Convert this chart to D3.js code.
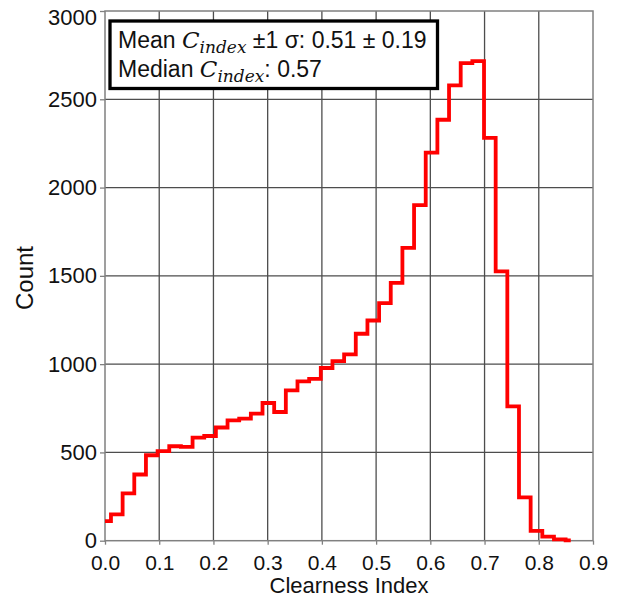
<!DOCTYPE html>
<html>
<head>
<meta charset="utf-8">
<script src="https://cdn.jsdelivr.net/npm/d3@7"></script>
<style>
  html, body { margin: 0; padding: 0; background: #ffffff; }
  svg { display: block; }
</style>
</head>
<body>
<svg id="chart" width="619" height="599"></svg>
<script>
// ---- data ----
const binEdges = [0, 0.011, 0.0325, 0.054, 0.0755, 0.097, 0.1185, 0.140, 0.1615, 0.183,
  0.2045, 0.226, 0.2475, 0.269, 0.2905, 0.312, 0.3335, 0.355, 0.3765, 0.398,
  0.4195, 0.441, 0.4625, 0.484, 0.5055, 0.527, 0.5485, 0.570, 0.5915, 0.613,
  0.6345, 0.656, 0.6775, 0.699, 0.7205, 0.742, 0.7635, 0.785, 0.8065, 0.828,
  0.8495, 0.859];
const counts = [111, 149, 268, 375, 484, 507, 535, 531, 584, 593,
  641, 682, 691, 720, 780, 729, 851, 902, 917, 978,
  1017, 1055, 1172, 1247, 1345, 1460, 1658, 1901, 2198, 2384,
  2579, 2705, 2716, 2282, 1525, 761, 245, 56, 23, 8, 2];
const xTicks = [0, 0.1, 0.2, 0.3, 0.4, 0.5, 0.6, 0.7, 0.8, 0.9];
const yTicks = [0, 500, 1000, 1500, 2000, 2500, 3000];
const xTitle = "Clearness Index";
const yTitle = "Count";
const meanText = " ±1 σ: 0.51 ± 0.19";
const medianText = ": 0.57";

// ---- layout ----
const svg = d3.select("#chart");
const pLeft = 105, pRight = 593, pTop = 11, pBottom = 540.7;
const x = d3.scaleLinear().domain([0, 0.9]).range([pLeft, pRight]);
const y = d3.scaleLinear().domain([0, 3000]).range([pBottom, pTop]);
const sans = "'Liberation Sans', Arial, Helvetica, sans-serif";

// gridlines
const grid = svg.append("g");
grid.selectAll("line.gx").data(xTicks.slice(1, -1)).join("line")
  .attr("x1", d => x(d)).attr("x2", d => x(d))
  .attr("y1", pTop).attr("y2", pBottom)
  .attr("stroke", "#4d4d4d").attr("stroke-width", 1.3);
grid.selectAll("line.gy").data(yTicks.slice(1, -1)).join("line")
  .attr("y1", d => y(d)).attr("y2", d => y(d))
  .attr("x1", pLeft).attr("x2", pRight)
  .attr("stroke", "#4d4d4d").attr("stroke-width", 1.3);

// axes
const xAxis = svg.append("g")
  .attr("transform", `translate(0,${pBottom})`)
  .call(d3.axisBottom(x).tickValues(xTicks).tickFormat(d3.format(".1f")).tickSize(4).tickPadding(10));
const yAxis = svg.append("g")
  .attr("transform", `translate(${pLeft},0)`)
  .call(d3.axisLeft(y).tickValues(yTicks).tickFormat(d3.format("d")).tickSize(5).tickPadding(3));
[xAxis, yAxis].forEach(a => {
  a.select(".domain").remove();
  a.selectAll(".tick line").attr("stroke", "#808080").attr("stroke-width", 1.3);
  a.selectAll(".tick text").attr("fill", "#111").style("font-family", sans);
});
xAxis.selectAll(".tick text").style("font-size", "21px");
yAxis.selectAll(".tick text").style("font-size", "22px");
yAxis.selectAll(".tick").filter(d => d === 3000).select("text").attr("y", 6);

// frame
svg.append("rect")
  .attr("x", pLeft).attr("y", pTop)
  .attr("width", pRight - pLeft).attr("height", pBottom - pTop)
  .attr("fill", "none").attr("stroke", "#808080").attr("stroke-width", 1.5);

// histogram stairs
const pts = counts.map((c, i) => [binEdges[i], c]);
pts.push([binEdges[binEdges.length - 1], counts[counts.length - 1]]);
const stairs = d3.line().x(d => x(d[0])).y(d => y(d[1])).curve(d3.curveStepAfter);
svg.append("path")
  .datum(pts)
  .attr("d", stairs)
  .attr("fill", "none")
  .attr("stroke", "#ff0000")
  .attr("stroke-width", 3.8)
  .attr("stroke-linejoin", "miter");

// axis titles
svg.append("text")
  .attr("x", (pLeft + pRight) / 2).attr("y", 593)
  .attr("text-anchor", "middle")
  .style("font-family", sans).style("font-size", "22px").attr("fill", "#111")
  .text(xTitle);
svg.append("text")
  .attr("transform", `translate(33,278) rotate(-90)`)
  .attr("text-anchor", "middle")
  .style("font-family", sans).style("font-size", "24px").attr("fill", "#111")
  .text(yTitle);

// legend box
const lg = svg.append("g");
lg.append("rect")
  .attr("x", 110).attr("y", 21)
  .attr("width", 327.5).attr("height", 67.5)
  .attr("fill", "#ffffff").attr("stroke", "#000").attr("stroke-width", 3.3);

function cIndex(t) {
  t.append("tspan").text(" ");
  t.append("tspan")
    .style("font-family", "'DejaVu Serif', 'Liberation Serif', serif")
    .style("font-style", "italic").style("font-size", "23px")
    .text("C");
  t.append("tspan")
    .style("font-family", "'DejaVu Serif', 'Liberation Serif', serif")
    .style("font-style", "italic").style("font-size", "17px")
    .attr("dy", 5)
    .text("index");
}
const t1 = lg.append("text").attr("x", 118).attr("y", 48)
  .style("font-family", sans).style("font-size", "23px").attr("fill", "#111");
t1.append("tspan").text("Mean");
cIndex(t1);
t1.append("tspan").attr("dy", -5).text(meanText);

const t2 = lg.append("text").attr("x", 118).attr("y", 77)
  .style("font-family", sans).style("font-size", "23px").attr("fill", "#111");
t2.append("tspan").text("Median");
cIndex(t2);
t2.append("tspan").attr("dy", -5).text(medianText);
</script>
</body>
</html>
